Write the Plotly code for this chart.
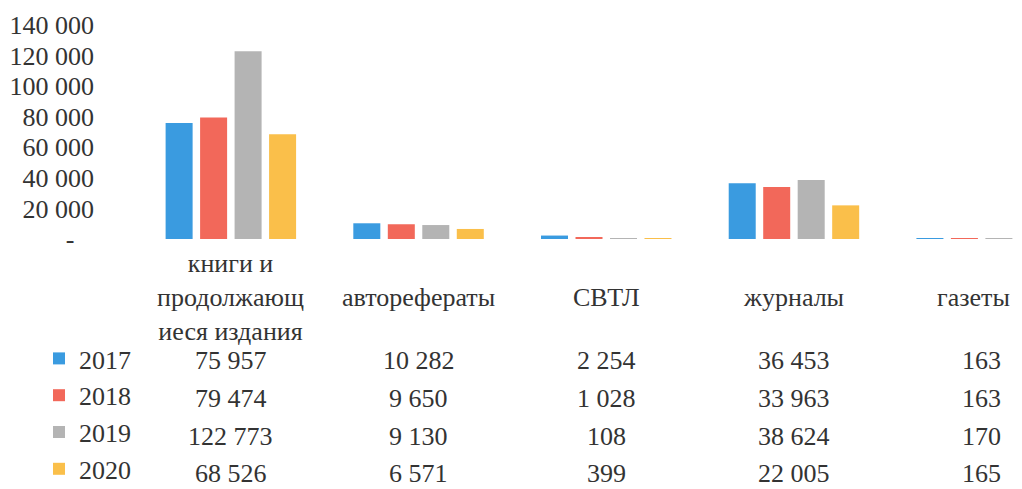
import plotly.graph_objects as go

categories = ["книги и<br>продолжающ<br>иеся издания", "авторефераты", "СВТЛ", "журналы", "газеты"]
years = ["2017", "2018", "2019", "2020"]
v2017 = [75957, 10282, 2254, 36453, 163]
v2018 = [79474, 9650, 1028, 33963, 163]
v2019 = [122773, 9130, 108, 38624, 170]
v2020 = [68526, 6571, 399, 22005, 165]
series = [v2017, v2018, v2019, v2020]
colors = ["#3A9BE0", "#F2685A", "#B4B4B4", "#FABF4A"]
ytick_vals = [0, 20000, 40000, 60000, 80000, 100000, 120000, 140000]
ytick_text = ["-\u00a0\u00a0\u00a0", "20 000", "40 000", "60 000", "80 000", "100 000", "120 000", "140 000"]

FONT = "Liberation Serif"
TXT = "#333333"
FS = 26

# page body has an 8px default margin; figure is sized to fill the window exactly
W, H = 1014, 481

xs = list(range(len(categories)))
fig = go.Figure()
for name, vals, col in zip(years, series, colors):
    fig.add_trace(go.Bar(x=xs, y=vals, name=name, marker=dict(color=col, line=dict(width=0)),
                         legendgroup=name))

annotations = []
# category labels
for i, c in enumerate(categories):
    annotations.append(dict(x=i, y=0, xref="x", yref="paper", text=c, showarrow=False,
                            yanchor="middle", xanchor="center", yshift=-58,
                            xshift=-8 if i == len(categories) - 1 else 0,
                            font=dict(family=FONT, size=FS, color=TXT)))
# data table
row_shift = [-121, -159, -197, -234]
for r, vals in enumerate(series):
    for i, v in enumerate(vals):
        annotations.append(dict(x=i, y=0, xref="x", yref="paper",
                                text=f"{v:,}".replace(",", " "), showarrow=False,
                                yanchor="middle", xanchor="center", yshift=row_shift[r],
                                font=dict(family=FONT, size=FS, color=TXT)))

fig.update_layout(
    width=W, height=H,
    margin=dict(l=129, r=0, t=17, b=250, autoexpand=False),
    paper_bgcolor="white", plot_bgcolor="white",
    barmode="group", bargap=0.265, bargroupgap=0.217,
    font=dict(family=FONT, size=FS, color=TXT),
    showlegend=True,
    legend=dict(xref="container", yref="container", x=31/W, y=1 - 327/H,
                xanchor="left", yanchor="top", traceorder="grouped", tracegroupgap=0,
                font=dict(family=FONT, size=FS, color=TXT), bgcolor="rgba(0,0,0,0)",
                itemclick=False),
    annotations=annotations,
    xaxis=dict(range=[-0.5, -0.5 + 885/187.7], showticklabels=False, showgrid=False,
               zeroline=False, showline=False, ticks="", automargin=False),
    yaxis=dict(range=[0, 140000], tickvals=ytick_vals, ticktext=ytick_text,
               showgrid=False, zeroline=False, showline=False, ticks="", automargin=False,
               ticklabelstandoff=42, tickfont=dict(family=FONT, size=FS, color=TXT)),
)

fig.write_html("out.html")
